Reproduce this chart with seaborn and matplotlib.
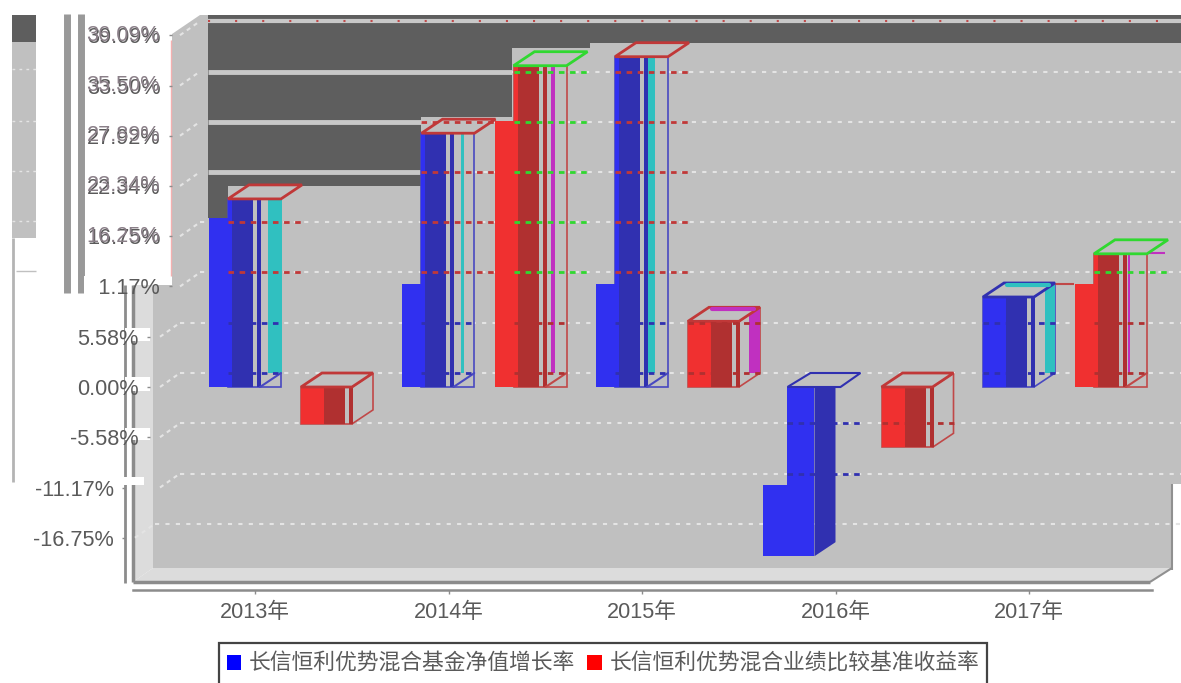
import matplotlib
matplotlib.use('Agg')
import matplotlib.pyplot as plt
import pandas as pd
import seaborn as sns
from matplotlib.patches import Polygon, Rectangle
from matplotlib.path import Path
from matplotlib.transforms import Affine2D, ScaledTranslation

# chart values
years = ['2013年', '2014年', '2015年', '2016年', '2017年']
fund_name = '长信恒利优势混合基金净值增长率'
bench_name = '长信恒利优势混合业绩比较基准收益率'
fund_values = [20.9, 28.2, 36.7, -18.8, 10.0]
bench_values = [-4.1, 35.7, 7.3, -6.7, 14.8]

tick_values = [39.09, 33.50, 27.92, 22.34, 16.75, 11.17, 5.58, 0.00, -5.58, -11.17, -16.75]
tick_labels = ['39.09%', '33.50%', '27.92%', '22.34%', '16.75%', '11.17%', '5.58%', '0.00%', '-5.58%', '-11.17%', '-16.75%']
ghost_labels = ['36.09%', '35.50%', '27.89%', '23.34%', '16.25%']

# the picture is torn: above these levels a bar's front is shifted sideways
fund_breaks = [18.8, 11.5, 11.5, -10.9, None]
bench_breaks = [None, 29.6, None, None, 11.4]

# side stripes and outline colours per bar
fund_stripes = [(59, 73), (59, 62), (52, 59), None, (62, 72)]
bench_stripes = [None, (56, 60), (61, 72), None, (53, 55)]
fund_top = ['#c03838', '#c03838', '#c03838', '#3030b0', '#3030b0']
bench_top = ['#c03838', '#30d830', '#c03838', '#c03838', '#30d830']

BLUE, BLUE_D = '#3030f0', '#3030b0'
RED, RED_D = '#f03030', '#b03030'
TEAL, PURPLE = '#30c0c0', '#c030c0'
WALL, WALL_L, DARK = '#c0c0c0', '#dcdcdc', '#5e5e5e'
TXT = '#5a5a5a'

W, H = 1181, 683
PX_X, PX_Y = 193.5, 9.0     # pixels per category, pixels per percent
X0_PX, Y0_PX = 280.5, 387   # pixel of first category, pixel of 0%

sns.set_style('white')
plt.rcParams['font.family'] = ['Liberation Sans', 'Noto Sans CJK SC']

fig = plt.figure(figsize=(W / 100, H / 100), dpi=100)
ax = fig.add_axes([0, 0, 1, 1])
ax.patch.set_alpha(0)

px = Affine2D().scale(1, -1).translate(0, H)


def box(x0, y0, x1, y1, color, z=1):
    ax.add_patch(Rectangle((x0, y0), x1 - x0, y1 - y0, fc=color, ec='none', transform=px, zorder=z))


def seg(xs, ys, color, lw=1.5, z=1.2, **kw):
    ax.plot(xs, ys, color=color, lw=lw, transform=px, zorder=z, solid_capstyle='butt', **kw)


data = pd.DataFrame({
    'year': years * 2,
    'series': [fund_name] * 5 + [bench_name] * 5,
    'value': fund_values + bench_values,
})
sns.barplot(data=data, x='year', y='value', hue='series', hue_order=[fund_name, bench_name],
            palette=[BLUE, RED], saturation=1, width=0.951, gap=0.4457, errorbar=None,
            ax=ax, zorder=3.2, linewidth=0)
bars = sorted([p for c in ax.containers for p in c], key=lambda p: p.get_x())

ax.set_xlim(-X0_PX / PX_X, (W - X0_PX) / PX_X)
ax.set_ylim(-(H - Y0_PX) / PX_Y, Y0_PX / PX_Y)
ax.set_axisbelow(False)

# walls and floor
box(172, 15, W, 484, WALL)
box(153, 285, 1172, 568, WALL)
ax.add_patch(Polygon([(133, 285), (153, 285), (153, 568), (133, 582)], fc=WALL_L, ec='none', transform=px, zorder=1))
ax.add_patch(Polygon([(133, 582), (153, 568), (1172, 568), (1150, 582)], fc=WALL_L, ec='none', transform=px, zorder=1))
ax.add_patch(Polygon([(208, 15), (W, 15), (W, 43), (590, 43), (590, 48), (512, 48), (512, 117), (421, 117),
                      (421, 186), (228, 186), (228, 218), (208, 218)], fc=DARK, ec='none', transform=px, zorder=1.1))
ax.add_patch(Polygon([(172, 15), (200, 15), (172, 34)], fc='white', ec='none', transform=px, zorder=1.15))
seg([1172, 1172], [484, 570], '#909090', 1.5)
seg([1172, 1150], [568, 582], '#909090', 1.5)

# torn fragment on the far left
box(12, 15, 36, 42, DARK)
box(12, 42, 36, 238, WALL)
for yy in [69, 121, 171, 221]:
    seg([12, 36], [yy, yy], '#e4e4e4', 1, ls=(0, (2, 3)))
seg([13, 13], [238, 482], '#b4b4b4', 2)
seg([16, 36], [271, 271], '#c0c0c0', 1)
seg([67, 67], [14, 293], '#999999', 5)
seg([81, 81], [14, 293], '#999999', 5)
seg([171, 171], [40, 276], '#f4b0b0', 1)

# axis frame lines
seg([125, 125], [285, 583], '#8c8c8c', 2)
seg([133, 133], [285, 582], '#8c8c8c', 2.5)
seg([133, 1150], [582, 582], '#8c8c8c', 2.5)

# white notches behind the lower tick labels
for y0, y1, x0, x1 in [(328, 341, 125, 150), (377, 391, 125, 150), (428, 440, 125, 150), (477, 485, 120, 144)]:
    box(x0, y0, x1, y1, 'white', 1.3)

# grid on the back wall, 14 px above the front position
back = 14 / PX_Y
for v in tick_values:
    gy = Y0_PX - (v + back) * PX_Y
    fy = gy + 14
    if v < -15:
        gx = 155
    elif v > 11:
        gx = 200
    else:
        gx = 180
    if 50 < gy < 180:
        end = 512 if gy < 100 else 421
        seg([208, end], [gy, gy], '#c8c8c8', 3.5, z=1.25)
        seg([end, 1181], [gy, gy], '#e4e4e4', 1.5, z=1.25, ls=(0, (2, 3)))
    elif v > 38:
        seg([208, 1181], [gy, gy], '#c8c8c8', 3, z=1.25)
        seg([208, 1181], [gy, gy], '#c04848', 1.5, z=1.26, ls=(0, (1, 12)))
    else:
        seg([gx, 1181], [gy, gy], '#e4e4e4', 1.5, z=1.25, ls=(0, (2, 3)))
    seg([gx - 20, gx], [fy, gy], '#e4e4e4', 1.5, z=1.25, ls=(0, (2, 2)))

dx = 1 / PX_X
breaks = [b for pair in zip(fund_breaks, bench_breaks) for b in pair]
stripes = [b for pair in zip(fund_stripes, bench_stripes) for b in pair]
tops = [b for pair in zip(fund_top, bench_top) for b in pair]

for i, bar in enumerate(bars):
    is_fund = i % 2 == 0
    h = bar.get_height()
    lo, hi = min(h, 0), max(h, 0)
    split = breaks[i]
    dark = BLUE_D if is_fund else RED_D
    edge = '#4848c0' if is_fund else '#c04848'
    stripe_col = TEAL if is_fund else PURPLE
    glitch_col = '#c03838' if is_fund else '#30d830'

    if h < 0 and split is not None:
        # the bar that falls through the tear sits 26 px left of its slot
        bar.set_x(bar.get_x() - 26 * dx)
        x0 = bar.get_x()
        X = lambda n: x0 + n * dx
        bar.set_clip_path(Path([(X(0), lo), (X(51), lo), (X(51), hi), (X(24), hi), (X(24), split), (X(0), split), (X(0), lo)]),
                          ax.transData)
        ax.fill([X(51), X(72), X(72), X(51)], [lo, lo + back, hi, hi], color=dark, lw=0, zorder=3.3)
        ax.add_patch(Polygon([(X(24), hi), (X(47), hi + back), (X(97), hi + back), (X(77), hi)], fc=WALL, ec=tops[i], lw=1.5, zorder=3.4))
        for v in tick_values:
            if split - 1 < v < 0:
                ax.plot([X(24), X(97)], [v + back, v + back], color=BLUE_D, lw=2, ls=(0, (2, 2)), zorder=3.6)
        continue

    x0 = bar.get_x()
    X = lambda n: x0 + n * dx
    sx = 21 if split is not None else 0
    body_left = 19 if split is not None else 0

    # side and front wire box
    if sx:
        ax.add_patch(Rectangle((X(body_left), lo), (72 - body_left) * dx, hi - lo, fc=WALL, ec=edge, lw=1.2, zorder=3))
        ax.plot([X(51), X(72)], [lo, lo + back], color=edge, lw=1.5, zorder=3.5)
    else:
        ax.add_patch(Rectangle((X(0), lo), 51 * dx, hi - lo, fc=WALL, ec=edge, lw=1.2, zorder=3))
        ax.add_patch(Polygon([(X(51), lo), (X(72), lo + back), (X(72), hi + back), (X(51), hi)], fc=WALL, ec=edge, lw=1.2, zorder=3))

    # bright part of the front
    if split is not None:
        verts = [(X(0), lo), (X(23), lo), (X(23), hi), (X(19), hi), (X(19), split), (X(0), split), (X(0), lo)]
    else:
        verts = [(X(0), lo), (X(23), lo), (X(23), hi), (X(0), hi), (X(0), lo)]
    bar.set_clip_path(Path(verts), ax.transData)

    # shaded band and thin stripes
    ax.add_patch(Rectangle((X(23), lo), 21 * dx, hi - lo, fc=dark, ec='none', zorder=3.3))
    ax.add_patch(Rectangle((X(48), lo), 4 * dx, hi - lo, fc=dark, ec='none', zorder=3.3))
    if stripes[i] is not None:
        a, b = stripes[i]
        ax.add_patch(Rectangle((X(a), lo + (back if a >= 52 else 0)), (b - a) * dx, hi - lo, fc=stripe_col, ec='none', zorder=3.25))

    # top face
    ax.add_patch(Polygon([(X(body_left), hi), (X(body_left + 21), hi + back), (X(51 + sx + 21), hi + back), (X(51 + sx), hi)],
                         fc=WALL, ec=tops[i], lw=2, zorder=3.4))
    if not sx and stripes[i] is not None and stripes[i][0] >= 61:
        ax.plot([X(24), X(66)], [hi + back - 0.2, hi + back - 0.2], color=stripe_col, lw=3, zorder=3.5)

    # grid showing through the bar
    for v in tick_values:
        yy = v + back
        if lo + back <= yy <= hi + back - 0.2:
            above = v > 11
            right = 92 if above and sx else 72
            ax.plot([X(body_left), X(right)], [yy, yy], color=glitch_col if above else dark,
                    lw=2, ls=(0, (2, 2)), zorder=3.6)

# stray lines next to the 2017 benchmark bar
seg([1022, 1074], [284, 284], '#c04848', 1.5, z=3)
seg([1146, 1165], [253, 253], PURPLE, 1.5, z=3)

# axes
ax.set_xlabel('')
ax.set_ylabel('')
for name in ['top', 'right']:
    ax.spines[name].set_visible(False)
ax.spines['left'].set_position(('data', (150 - X0_PX) / PX_X))
ax.spines['left'].set_visible(False)
ax.spines['bottom'].set_position(('data', (Y0_PX - 590) / PX_Y))
ax.spines['bottom'].set_bounds((133 - X0_PX) / PX_X, (1152 - X0_PX) / PX_X)
ax.spines['bottom'].set_color('#8c8c8c')
ax.spines['bottom'].set_linewidth(1.8)

ax.set_yticks(tick_values)
ax.set_yticklabels(tick_labels)
ax.set_xticks([i - 25.5 / PX_X for i in range(len(years))])
ax.set_xticklabels(years)
ax.tick_params(axis='y', left=True, length=2.2, width=1, color='#8c8c8c', pad=6, labelsize=15.6, labelcolor=TXT)
ax.tick_params(axis='x', bottom=True, length=3, width=1, color='#8c8c8c', pad=6, labelsize=15.6, labelcolor=TXT)

# tick labels follow the tear: upper ones to the right, lowest two to the left
shift_up = ScaledTranslation(22 / 100, 0, fig.dpi_scale_trans)
shift_down = ScaledTranslation(-25 / 100, 0, fig.dpi_scale_trans)
for v, tick in zip(tick_values, ax.yaxis.get_major_ticks()):
    if v > 11:
        tick.label1.set_transform(tick.label1.get_transform() + shift_up)
        tick.tick1line.set_transform(tick.tick1line.get_transform() + shift_up)
    elif v < -10:
        tick.label1.set_transform(tick.label1.get_transform() + shift_down)
        tick.tick1line.set_transform(tick.tick1line.get_transform() + shift_down)

# doubled labels in the torn part
for v, txt in zip(tick_values, ghost_labels):
    ax.text(160, Y0_PX - v * PX_Y, txt, transform=px, ha='right', va='center', fontsize=15.6, color='#8a7f88', zorder=2.6)
box(84, 276, 100, 296, 'white', 5)

# legend runs off the bottom of the picture, so its frame is a plain box
ax.add_patch(Rectangle((219, 643), 768, 60, fc='white', ec='#444444', lw=1.6, transform=px, zorder=5.5))
handles, labels = ax.get_legend_handles_labels()
leg = ax.legend(handles, labels, loc='upper left', bbox_to_anchor=(227, 654), bbox_transform=px, ncol=2,
                frameon=False, fontsize=15.7, handlelength=0.65, handleheight=0.65, handletextpad=0.37,
                columnspacing=0.55, borderpad=0, borderaxespad=0, labelcolor=TXT)
leg.set_zorder(6)
for patch, c in zip(leg.get_patches(), ['#0000ff', '#ff0000']):
    patch.set_facecolor(c)

fig.savefig('out.png')
